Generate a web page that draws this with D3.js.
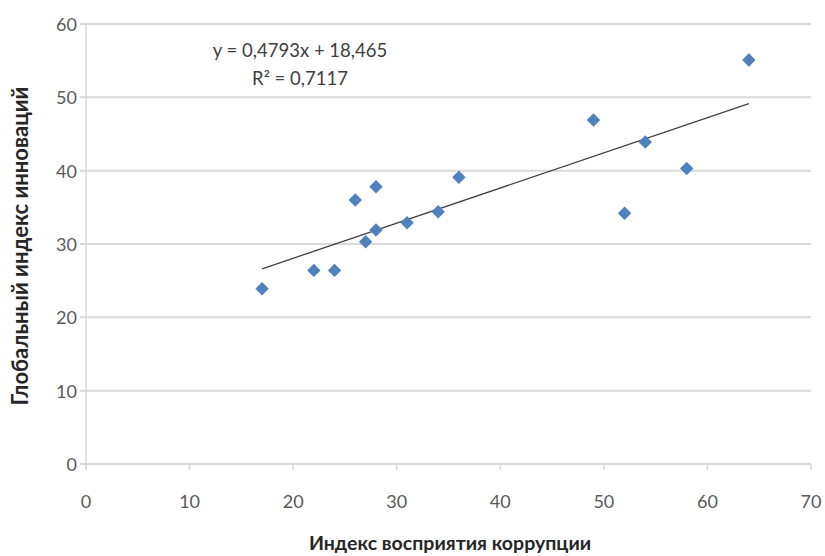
<!DOCTYPE html>
<html>
<head>
<meta charset="utf-8">
<script src="https://cdn.jsdelivr.net/npm/d3@7"></script>
<style>
    body { margin: 0; background: #fff; }
    svg { display: block; font-family: Lato, "Open Sans", sans-serif; }
</style>
</head>
<body>
<div id="chart"></div>
<script>
// Индекс восприятия коррупции (x) vs Глобальный индекс инноваций (y)
const corruptionIndex = [17, 22, 24, 26, 27, 28, 28, 31, 34, 36, 49, 52, 54, 58, 64];
const innovationIndex = [23.9, 26.4, 26.4, 36.0, 30.3, 37.8, 31.9, 32.9, 34.4, 39.1, 46.9, 34.2, 43.9, 40.3, 55.1];
const xTicks = [0, 10, 20, 30, 40, 50, 60, 70];
const yTicks = [0, 10, 20, 30, 40, 50, 60];
const trendSlope = 0.4793;
const trendIntercept = 18.465;
const equationLines = ['y = 0,4793x + 18,465', 'R² = 0,7117'];
const xTitle = 'Индекс восприятия коррупции';
const yTitle = 'Глобальный индекс инноваций';

const width = 825, height = 556;
const margin = { top: 24, right: 14, bottom: 92, left: 86 };

const svg = d3.select('#chart').append('svg')
    .attr('width', width)
    .attr('height', height);

const x = d3.scaleLinear().domain([0, 70]).range([margin.left, width - margin.right]);
const y = d3.scaleLinear().domain([0, 60]).range([height - margin.bottom, margin.top]);

// horizontal gridlines
svg.append('g')
    .selectAll('line')
    .data(yTicks)
    .join('line')
    .attr('x1', x(0) - 6)
    .attr('x2', x(70))
    .attr('y1', d => y(d))
    .attr('y2', d => y(d))
    .attr('stroke', '#d9d9d9')
    .attr('stroke-width', 2);

// y axis line
svg.append('line')
    .attr('x1', x(0)).attr('x2', x(0))
    .attr('y1', y(60)).attr('y2', y(0) + 5)
    .attr('stroke', '#d9d9d9')
    .attr('stroke-width', 1.5);

// x tick marks
svg.append('g')
    .selectAll('line')
    .data(xTicks)
    .join('line')
    .attr('x1', d => x(d)).attr('x2', d => x(d))
    .attr('y1', y(0)).attr('y2', y(0) + 6)
    .attr('stroke', '#d9d9d9')
    .attr('stroke-width', 1.5);

// tick labels
svg.append('g')
    .selectAll('text')
    .data(yTicks)
    .join('text')
    .attr('x', x(0) - 9)
    .attr('y', d => y(d))
    .attr('text-anchor', 'end')
    .attr('dominant-baseline', 'central')
    .attr('font-size', 18)
    .attr('fill', '#595959')
    .text(d => d);

svg.append('g')
    .selectAll('text')
    .data(xTicks)
    .join('text')
    .attr('x', d => x(d))
    .attr('y', y(0) + 37)
    .attr('text-anchor', 'middle')
    .attr('dominant-baseline', 'central')
    .attr('font-size', 18)
    .attr('fill', '#595959')
    .text(d => d);

// trend line over the data range
const xExtent = d3.extent(corruptionIndex);
svg.append('line')
    .attr('x1', x(xExtent[0]))
    .attr('y1', y(trendSlope * xExtent[0] + trendIntercept))
    .attr('x2', x(xExtent[1]))
    .attr('y2', y(trendSlope * xExtent[1] + trendIntercept))
    .attr('stroke', '#404040')
    .attr('stroke-width', 1.3);

// diamond markers
const diamond = d3.symbol().type(d3.symbolDiamond2).size(115);
svg.append('g')
    .selectAll('path')
    .data(d3.zip(corruptionIndex, innovationIndex))
    .join('path')
    .attr('d', diamond)
    .attr('transform', d => `translate(${x(d[0])},${y(d[1])})`)
    .attr('fill', '#4f81bd');

// equation label
svg.append('g')
    .selectAll('text')
    .data(equationLines)
    .join('text')
    .attr('x', 300)
    .attr('y', (d, i) => 50 + i * 28)
    .attr('text-anchor', 'middle')
    .attr('dominant-baseline', 'central')
    .attr('font-size', 18.5)
    .attr('fill', '#404040')
    .text(d => d);

// axis titles
svg.append('text')
    .attr('x', 450)
    .attr('y', 542)
    .attr('text-anchor', 'middle')
    .attr('dominant-baseline', 'central')
    .attr('font-size', 19.5)
    .attr('font-weight', 'bold')
    .attr('fill', '#262626')
    .text(xTitle);

svg.append('text')
    .attr('transform', 'translate(19,246) rotate(-90)')
    .attr('text-anchor', 'middle')
    .attr('dominant-baseline', 'central')
    .attr('font-size', 22)
    .attr('font-weight', 'bold')
    .attr('fill', '#262626')
    .text(yTitle);
</script>
</body>
</html>
